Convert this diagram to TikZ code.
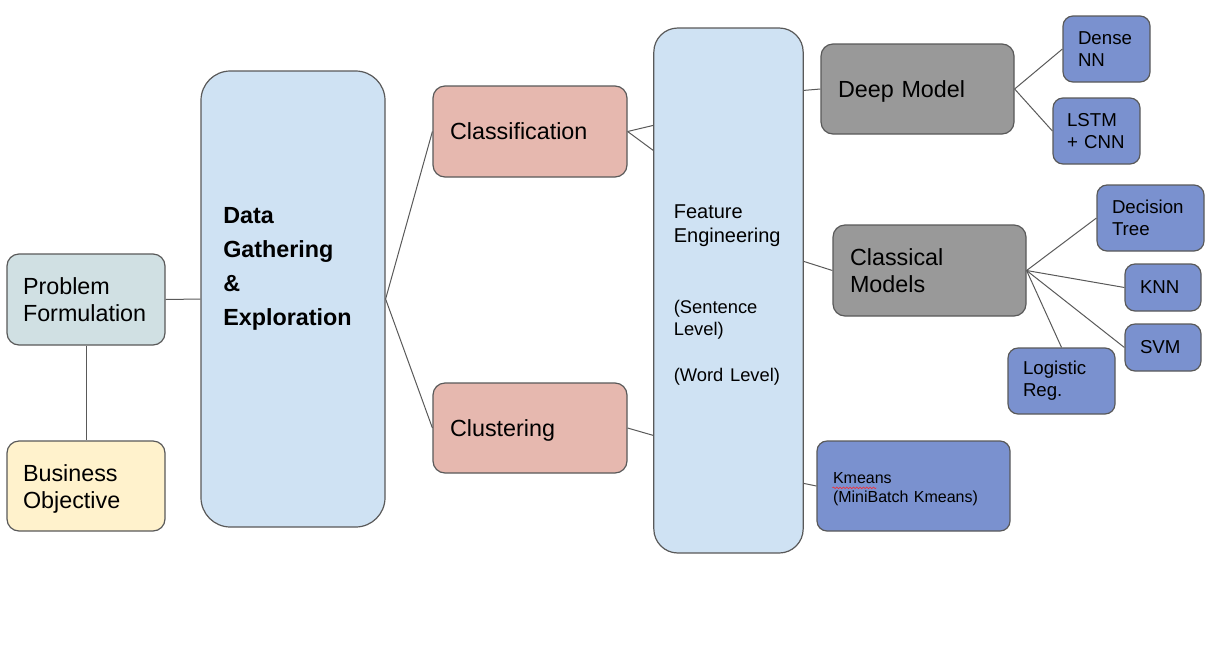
\documentclass[tikz,border=0pt]{standalone}
\usepackage{fontspec}
\setmainfont{Liberation Sans}
\usetikzlibrary{decorations.pathmorphing}
\definecolor{pfcol}{HTML}{D0E0E3}
\definecolor{bocol}{HTML}{FFF2CC}
\definecolor{datacol}{HTML}{CFE2F3}
\definecolor{taskcol}{HTML}{E6B8AF}
\definecolor{modelcol}{HTML}{999999}
\definecolor{algcol}{HTML}{7A91CF}
\definecolor{edgecol}{HTML}{595959}
\begin{document}
\begin{tikzpicture}[x=0.75pt,y=-0.75pt,
    box/.style n args={3}{draw=edgecol, line width=0.9pt, rounded corners=9pt,
        minimum width=#1*0.75pt, minimum height=#2*0.75pt,
        inner xsep=#3*0.75pt, inner ysep=0pt, text width=(#1-2*#3)*0.75pt, align=left},
    bigtxt/.style={font=\fontsize{17.5}{20.25}\selectfont},
    midtxt/.style={font=\fontsize{15}{16.5}\selectfont},
    smalltxt/.style={font=\fontsize{14}{16.5}\selectfont},
    tinytxt/.style={font=\fontsize{12}{14.25}\selectfont},
    algbox/.style={fill=algcol, smalltxt, rounded corners=7.5pt},
    link/.style={draw=edgecol, line width=0.75pt},
    spell/.style={draw=red!85, line width=0.4pt, decorate,
        decoration={snake, amplitude=0.6pt, segment length=2.5pt}}]
    \useasboundingbox (0,0) rectangle (1213,654);
    % Problem and objective
    \node[box={158}{91}{16}, bigtxt, fill=pfcol] (pf) at (86,299.5) {Problem\\Formulation};
    \node[box={158}{90}{16}, bigtxt, fill=bocol] (bo) at (86,486) {\rule{0pt}{17pt}Business\\Objective};
    % Data gathering
    \node[box={184}{456}{22}, rounded corners=22pt, fill=datacol] (dge) at (293,299) {};
    \node[anchor=west, align=left, inner sep=0pt, font=\bfseries\fontsize{17.5}{25.5}\selectfont]
        (dgetxt) at (223,269) {Data\\Gathering\\\&\\Exploration};
    % Tasks
    \node[box={194}{91}{17}, bigtxt, fill=taskcol] (cls) at (530,131.5) {Classification};
    \node[box={194}{90}{17}, bigtxt, fill=taskcol] (clu) at (530,428) {\rule{0pt}{17pt}Clustering};
    % Feature engineering
    \node[box={149}{525}{20}, midtxt, rounded corners=18pt, fill=datacol, text width=82pt] (fe) at (728.5,290.5)
        {\rule{0pt}{16.7pt}Feature\\[1.5pt]Engineering\\[36.75pt]\fontsize{13.75}{16.5}\selectfont
         (Sentence\\Level)\\[18pt](Word Level)};
    % Models
    \node[box={193}{90}{17}, bigtxt, fill=modelcol] (dm) at (917.5,89) {\rule{0pt}{17pt}Deep Model};
    \node[box={193}{91}{17}, bigtxt, fill=modelcol] (cm) at (929.5,270.5) {Classical\\Models};
    \node[box={87}{66}{15}, algbox] (dnn) at (1106.5,49) {Dense\\NN};
    \node[box={87}{66}{14}, algbox] (lstm) at (1096.5,131) {LSTM\\+ CNN};
    \node[box={107}{66}{15}, algbox] (dt) at (1150.5,218) {Decision\\Tree};
    \node[box={76}{47}{15}, algbox] (knn) at (1163,287.5) {KNN};
    \node[box={76}{47}{15}, algbox] (svm) at (1163,347.5) {SVM};
    \node[box={107}{66}{15}, algbox] (lr) at (1061.5,381) {Logistic\\Reg.};
    \node[box={193}{90}{16}, algbox, tinytxt] (km) at (913.5,486) {\rule{0pt}{12.5pt}Kmeans\\(MiniBatch Kmeans)};
    \draw[spell] ([xshift=12pt,yshift=-1.4pt]km.west) -- ++(44,0);
    % Links
    \draw[link] (pf.east) -- (dge.west);
    \draw[link] (pf.south) -- (bo.north);
    \draw[link] (dge.east) -- (cls.west);
    \draw[link] (dge.east) -- (clu.west);
    \draw[link] (cls.east) -- ([yshift=-73.5pt]fe.north west);
    \draw[link] (cls.east) -- ([yshift=-92.25pt]fe.north west);
    \draw[link] (clu.east) -- ([yshift=-306pt]fe.north west);
    \draw[link] ([yshift=-47.25pt]fe.north east) -- (dm.west);
    \draw[link] ([yshift=-175.5pt]fe.north east) -- (cm.west);
    \draw[link] ([yshift=-342pt]fe.north east) -- (km.west);
    \draw[link] (dm.east) -- (dnn.west);
    \draw[link] (dm.east) -- (lstm.west);
    \foreach \t in {dt.west,knn.west,svm.west,lr.north}
        \draw[link] (cm.east) -- (\t);
\end{tikzpicture}
\end{document}
